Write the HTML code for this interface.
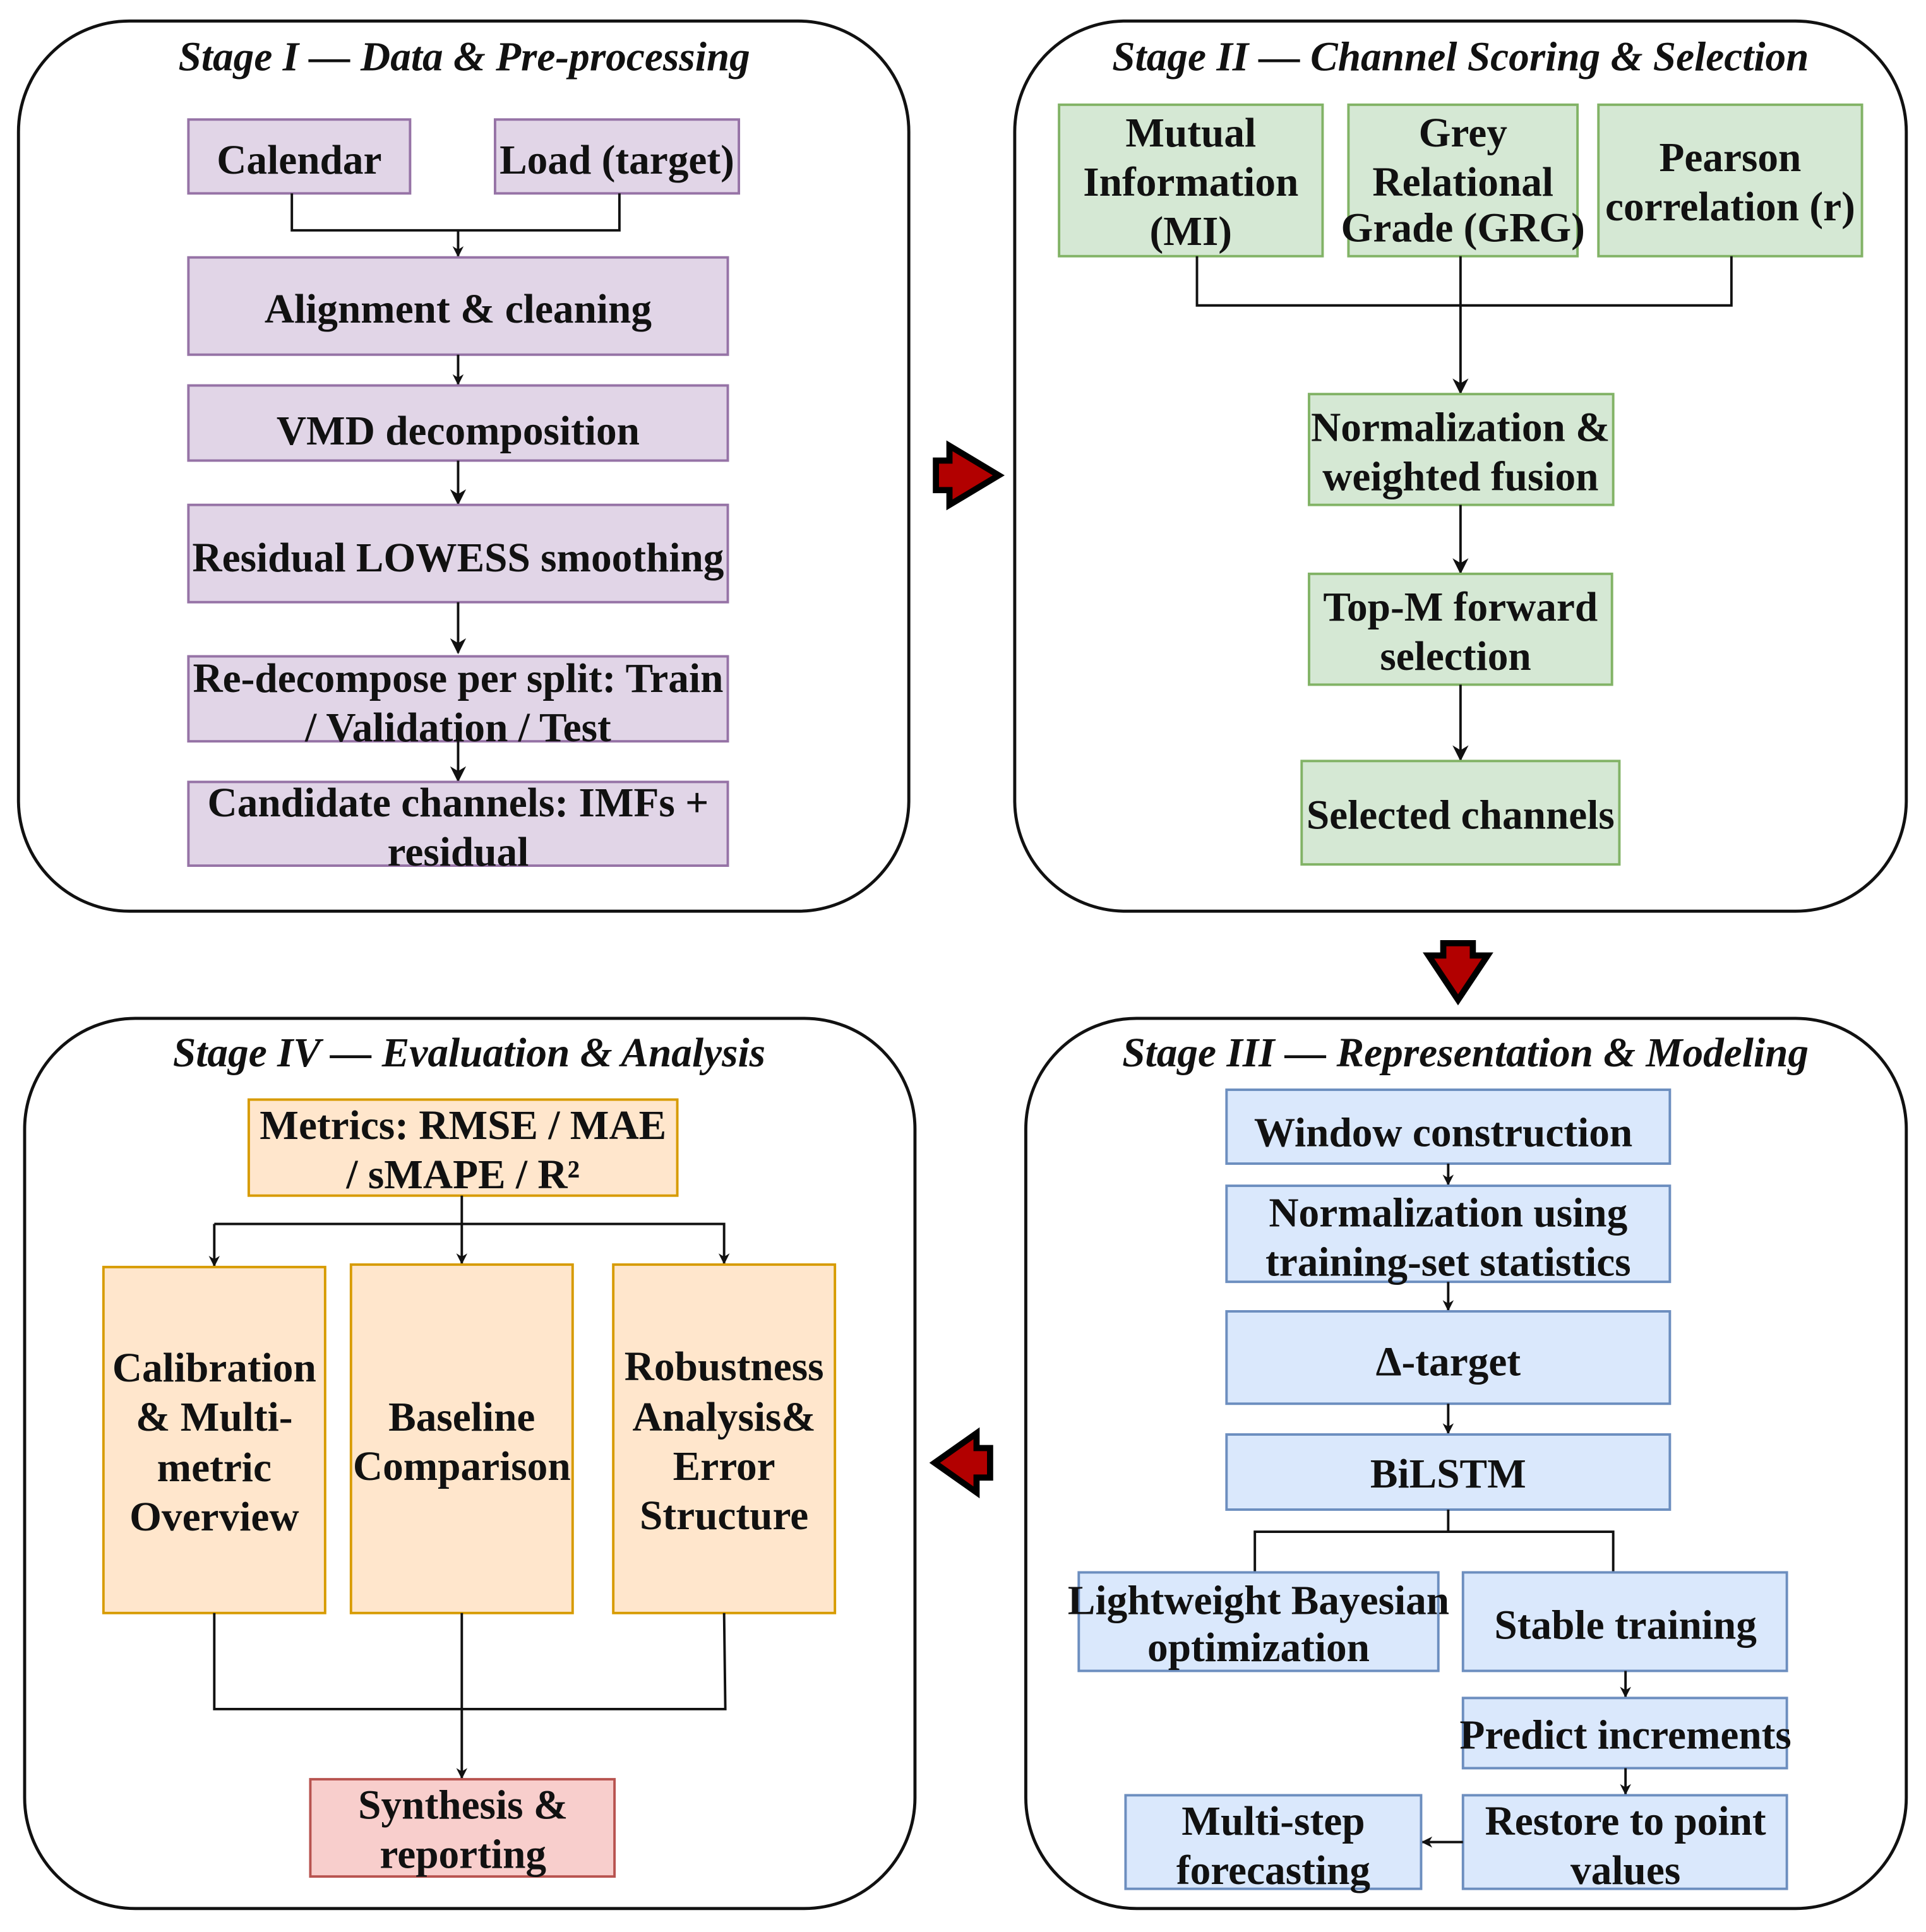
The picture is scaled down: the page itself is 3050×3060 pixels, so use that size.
<!DOCTYPE html>
<html><head><meta charset="utf-8"><style>
html,body{margin:0;padding:0;background:#fff}
svg{display:block}
text{font-family:"Liberation Serif","Times New Roman",serif;font-weight:bold;font-size:33.5px;fill:#111;text-anchor:middle}
.t{font-style:italic;font-size:33.5px}
.c{fill:none;stroke:#111;stroke-width:2}
.p{fill:#e1d5e7;stroke:#9673a6;stroke-width:2}
.g{fill:#d5e8d4;stroke:#82b366;stroke-width:2}
.o{fill:#ffe6cc;stroke:#d79b00;stroke-width:2}
.b{fill:#dae8fc;stroke:#6c8ebf;stroke-width:2}
.r{fill:#f8cecc;stroke:#b85450;stroke-width:2}
.box{fill:none;stroke:#111;stroke-width:2.5}
.ra{fill:#b20000;stroke:#000;stroke-width:5;stroke-linejoin:miter}
</style></head><body>
<svg width="3050" height="3060" viewBox="0 0 1564 1569" xmlns="http://www.w3.org/2000/svg">
<defs><marker id="a" viewBox="0 0 10 10" refX="9" refY="5" markerWidth="9" markerHeight="9" orient="auto" markerUnits="userSpaceOnUse"><path d="M0,0 L10,5 L0,10 L3,5 z" fill="#111"/></marker>
<marker id="m" viewBox="0 0 10 10" refX="9" refY="5" markerWidth="13" markerHeight="13" orient="auto" markerUnits="userSpaceOnUse"><path d="M0,0 L10,5 L0,10 L3,5 z" fill="#111"/></marker></defs>

<rect class="box" x="15" y="17" width="723" height="723" rx="90"/>
<rect class="box" x="824" y="17" width="724" height="723" rx="90"/>
<rect class="box" x="20" y="827" width="723" height="723" rx="90"/>
<rect class="box" x="833" y="827" width="715" height="723" rx="90"/>
<text class="t" x="377" y="57">Stage I — Data &amp; Pre-processing</text>
<text class="t" x="1186" y="57">Stage II — Channel Scoring &amp; Selection</text>
<text class="t" x="381" y="866">Stage IV — Evaluation &amp; Analysis</text>
<text class="t" x="1190" y="866">Stage III — Representation &amp; Modeling</text>

<polygon class="ra" points="760,374 771,374 771,362 811,386 771,410 771,398 760,398"/>
<polygon class="ra" points="1172,766 1196,766 1196,776 1208,776 1184,812 1160,776 1172,776"/>
<polygon class="ra" points="804,1176 793,1176 793,1164 759,1188 793,1212 793,1200 804,1200"/>

<rect class="p" x="153" y="97" width="180" height="60"/><text x="243" y="141">Calendar</text>
<rect class="p" x="402" y="97" width="198" height="60"/><text x="501" y="141">Load (target)</text>
<path class="c" d="M237,157 V187 H503 V157"/>
<path class="c" d="M372,187 V208" marker-end="url(#a)"/>
<rect class="p" x="153" y="209" width="438" height="79"/><text x="372" y="262">Alignment &amp; cleaning</text>
<path class="c" d="M372,288 V312" marker-end="url(#a)"/>
<rect class="p" x="153" y="313" width="438" height="61"/><text x="372" y="361">VMD decomposition</text>
<path class="c" d="M372,374 V409" marker-end="url(#m)"/>
<rect class="p" x="153" y="410" width="438" height="79"/><text x="372" y="464">Residual LOWESS smoothing</text>
<path class="c" d="M372,489 V530" marker-end="url(#m)"/>
<rect class="p" x="153" y="533" width="438" height="69"/><text x="372" y="562">Re-decompose per split: Train</text><text x="372" y="602">/ Validation / Test</text>
<path class="c" d="M372,602 V634" marker-end="url(#m)"/>
<rect class="p" x="153" y="635" width="438" height="68"/><text x="372" y="663">Candidate channels: IMFs +</text><text x="372" y="703">residual</text>

<rect class="g" x="860" y="85" width="214" height="123"/><text x="967" y="119">Mutual</text><text x="967" y="159">Information</text><text x="967" y="199">(MI)</text>
<rect class="g" x="1095" y="85" width="186" height="123"/><text x="1188" y="119">Grey</text><text x="1188" y="159">Relational</text><text x="1188" y="196">Grade (GRG)</text>
<rect class="g" x="1298" y="85" width="214" height="123"/><text x="1405" y="139">Pearson</text><text x="1405" y="179">correlation (r)</text>
<path class="c" d="M972,208 V248 H1406 V208"/>
<path class="c" d="M1186,208 V319" marker-end="url(#m)"/>
<rect class="g" x="1063" y="320" width="247" height="90"/><text x="1186" y="358">Normalization &amp;</text><text x="1186" y="398">weighted fusion</text>
<path class="c" d="M1186,410 V465" marker-end="url(#m)"/>
<rect class="g" x="1063" y="466" width="246" height="90"/><text x="1186" y="504">Top-M forward</text><text x="1182" y="544">selection</text>
<path class="c" d="M1186,556 V617" marker-end="url(#m)"/>
<rect class="g" x="1057" y="618" width="258" height="84"/><text x="1186" y="673">Selected channels</text>

<rect class="o" x="202" y="893" width="348" height="78"/><text x="376" y="925">Metrics: RMSE / MAE</text><text x="376" y="965">/ sMAPE / R²</text>
<path class="c" d="M375,971 V1026" marker-end="url(#a)"/>
<path class="c" d="M174,994 H588 V1026" marker-end="url(#a)"/>
<path class="c" d="M174,994 V1028" marker-end="url(#a)"/>
<rect class="o" x="84" y="1029" width="180" height="281"/><text x="174" y="1122">Calibration</text><text x="174" y="1162">&amp; Multi-</text><text x="174" y="1203">metric</text><text x="174" y="1243">Overview</text>
<rect class="o" x="285" y="1027" width="180" height="283"/><text x="375" y="1162">Baseline</text><text x="375" y="1202">Comparison</text>
<rect class="o" x="498" y="1027" width="180" height="283"/><text x="588" y="1121">Robustness</text><text x="588" y="1162">Analysis&amp;</text><text x="588" y="1202">Error</text><text x="588" y="1242">Structure</text>
<path class="c" d="M174,1310 V1388 H589 L588,1310"/>
<path class="c" d="M375,1310 V1444" marker-end="url(#a)"/>
<rect class="r" x="252" y="1445" width="247" height="79"/><text x="376" y="1477">Synthesis &amp;</text><text x="376" y="1517">reporting</text>

<rect class="b" x="996" y="885" width="360" height="60"/><text x="1172" y="931">Window construction</text>
<path class="c" d="M1176,945 V962" marker-end="url(#a)"/>
<rect class="b" x="996" y="963" width="360" height="78"/><text x="1176" y="996">Normalization using</text><text x="1176" y="1036">training-set statistics</text>
<path class="c" d="M1176,1041 V1064" marker-end="url(#a)"/>
<rect class="b" x="996" y="1065" width="360" height="75"/><text x="1176" y="1117">Δ-target</text>
<path class="c" d="M1176,1140 V1164" marker-end="url(#a)"/>
<rect class="b" x="996" y="1165" width="360" height="61"/><text x="1176" y="1208">BiLSTM</text>
<path class="c" d="M1176,1226 V1244 M1019,1277 V1244 H1310 V1277"/>
<rect class="b" x="876" y="1277" width="292" height="80"/><text x="1022" y="1311">Lightweight Bayesian</text><text x="1022" y="1349">optimization</text>
<rect class="b" x="1188" y="1277" width="263" height="80"/><text x="1320" y="1331">Stable training</text>
<path class="c" d="M1320,1357 V1378" marker-end="url(#a)"/>
<rect class="b" x="1188" y="1379" width="263" height="57"/><text x="1320" y="1420">Predict increments</text>
<path class="c" d="M1320,1436 V1457" marker-end="url(#a)"/>
<rect class="b" x="1188" y="1458" width="263" height="76"/><text x="1320" y="1490">Restore to point</text><text x="1320" y="1530">values</text>
<path class="c" d="M1188,1496 H1155" marker-end="url(#a)"/>
<rect class="b" x="914" y="1458" width="240" height="76"/><text x="1034" y="1490">Multi-step</text><text x="1034" y="1530">forecasting</text>
</svg>
</body></html>
